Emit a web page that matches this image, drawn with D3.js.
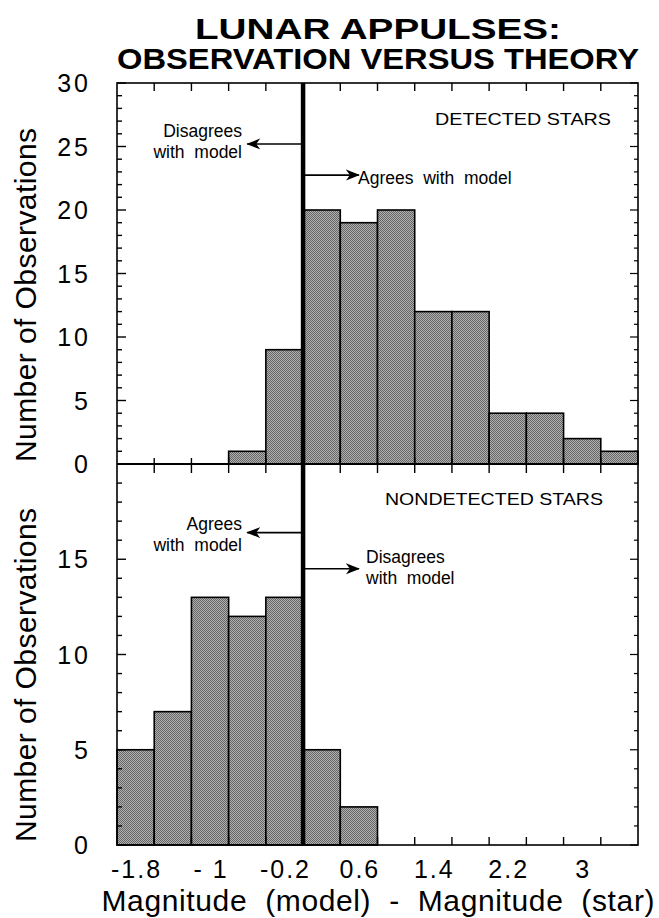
<!DOCTYPE html>
<html>
<head>
<meta charset="utf-8">
<script src="https://cdn.jsdelivr.net/npm/d3@7"></script>
<style>
  html, body { margin: 0; padding: 0; background: #fff; }
  svg { display: block; }
  text { font-family: "Liberation Sans", Arial, Helvetica, sans-serif; fill: #000; white-space: pre; }
</style>
</head>
<body>
<svg id="chart" width="659" height="918"></svg>
<script>
// ---- data ----
const binEdges = [-2.0, -1.6, -1.2, -0.8, -0.4, 0.0, 0.4, 0.8, 1.2, 1.6, 2.0, 2.4, 2.8, 3.2, 3.6];
const detected    = [0, 0, 0, 1, 9, 20, 19, 20, 12, 12, 4, 4, 2, 1];
const nondetected = [5, 7, 13, 12, 13, 5, 2, 0, 0, 0, 0, 0, 0, 0];
const xTickValues = [-1.8, -1, -0.2, 0.6, 1.4, 2.2, 3];
const xTickLabels = ["-1.8", "- 1", "-0.2", "0.6", "1.4", "2.2", "3"];
const yTopTicks = [0, 5, 10, 15, 20, 25, 30];
const yBotTicks = [0, 5, 10, 15];
const boundary = 0;

// ---- layout ----
const L = 117, R = 638, T = 83, M = 464, B = 845;
const svg = d3.select("#chart");

const x = d3.scaleLinear().domain([-2.0, 3.6]).range([L, R]);
const yTop = d3.scaleLinear().domain([0, 30]).range([M, T]);
const yBot = d3.scaleLinear().domain([0, 20]).range([B, M]);

// halftone pattern
const defs = svg.append("defs");
const pat = defs.append("pattern").attr("id", "tone")
  .attr("width", 2).attr("height", 2).attr("patternUnits", "userSpaceOnUse");
pat.append("rect").attr("width", 2).attr("height", 2).attr("fill", "#b0b0b0");
pat.append("rect").attr("width", 1).attr("height", 1).attr("fill", "#666");
pat.append("rect").attr("x", 1).attr("y", 1).attr("width", 1).attr("height", 1).attr("fill", "#666");

defs.append("marker").attr("id", "arrow")
  .attr("viewBox", "0 -6 14 12").attr("refX", 13).attr("refY", 0)
  .attr("markerWidth", 14).attr("markerHeight", 12)
  .attr("markerUnits", "userSpaceOnUse").attr("orient", "auto")
  .append("path").attr("d", "M0,-5.5 L14,0 L0,5.5 L4,0 Z").attr("fill", "#000");

// ---- bars ----
function drawBars(values, y) {
  const data = values.map((v, i) => ({x0: binEdges[i], x1: binEdges[i + 1], v}))
                     .filter(d => d.v > 0);
  svg.append("g").selectAll("rect").data(data).join("rect")
    .attr("x", d => x(d.x0)).attr("width", d => x(d.x1) - x(d.x0))
    .attr("y", d => y(d.v)).attr("height", d => y(0) - y(d.v))
    .attr("fill", "url(#tone)").attr("stroke", "#000").attr("stroke-width", 1.6);
}
drawBars(detected, yTop);
drawBars(nondetected, yBot);

// ---- frames ----
svg.append("rect").attr("x", L).attr("y", T).attr("width", R - L).attr("height", B - T)
  .attr("fill", "none").attr("stroke", "#000").attr("stroke-width", 1.6);
svg.append("line").attr("x1", L).attr("x2", R).attr("y1", M).attr("y2", M)
  .attr("stroke", "#000").attr("stroke-width", 2.2);

// ---- y axes (inside ticks) ----
function yAxis(y, maxV, majors) {
  const minor = d3.range(0, maxV + 1);
  const g = svg.append("g");
  g.selectAll("line.mn").data(minor).join("line")
    .attr("x1", L).attr("x2", d => L + (d % 5 === 0 ? 9 : 5))
    .attr("y1", d => y(d)).attr("y2", d => y(d))
    .attr("stroke", "#000").attr("stroke-width", 1.4);
  g.selectAll("line.rt").data(minor).join("line")
    .attr("x1", R).attr("x2", d => R - (d % 5 === 0 ? 8 : 4))
    .attr("y1", d => y(d)).attr("y2", d => y(d))
    .attr("stroke", "#000").attr("stroke-width", 1.2);
  g.selectAll("text").data(majors).join("text")
    .attr("x", 91).attr("y", d => y(d)).attr("dy", "0.36em")
    .attr("text-anchor", "end").attr("font-size", 25).attr("letter-spacing", 3)
    .text(d => d);
}
yAxis(yTop, 30, yTopTicks);
yAxis(yBot, 20, yBotTicks);

// ---- x ticks at bin edges ----
const inner = binEdges.slice(1, -1);
svg.append("g").selectAll("line").data(inner).join("line")
  .attr("x1", d => x(d)).attr("x2", d => x(d)).attr("y1", T).attr("y2", T + 8)
  .attr("stroke", "#000").attr("stroke-width", 1.4);
svg.append("g").selectAll("line").data(inner).join("line")
  .attr("x1", d => x(d)).attr("x2", d => x(d)).attr("y1", M - 6).attr("y2", M + 9)
  .attr("stroke", "#000").attr("stroke-width", 1.4);
svg.append("g").selectAll("line").data(inner).join("line")
  .attr("x1", d => x(d)).attr("x2", d => x(d)).attr("y1", B).attr("y2", B - 8)
  .attr("stroke", "#000").attr("stroke-width", 1.4);

svg.append("g").selectAll("text").data(xTickValues).join("text")
  .attr("x", (d) => x(d) + 1).attr("y", 878)
  .attr("text-anchor", "middle").attr("font-size", 25).attr("letter-spacing", 2)
  .text((d, i) => xTickLabels[i]);

// ---- boundary line ----
svg.append("line").attr("x1", x(boundary)).attr("x2", x(boundary)).attr("y1", T).attr("y2", B)
  .attr("stroke", "#000").attr("stroke-width", 4.5);

// ---- titles ----
svg.append("text").attr("x", 378).attr("y", 39).attr("text-anchor", "middle")
  .attr("font-size", 30).attr("font-weight", "bold")
  .attr("textLength", 366).attr("lengthAdjust", "spacingAndGlyphs")
  .text("LUNAR APPULSES:");
svg.append("text").attr("x", 378).attr("y", 69).attr("text-anchor", "middle")
  .attr("font-size", 30).attr("font-weight", "bold")
  .attr("textLength", 522).attr("lengthAdjust", "spacingAndGlyphs")
  .text("OBSERVATION VERSUS THEORY");

svg.append("text").attr("x", 378).attr("y", 911).attr("text-anchor", "middle")
  .attr("font-size", 30).attr("textLength", 553).attr("lengthAdjust", "spacing")
  .text("Magnitude  (model)  -  Magnitude  (star)");

function yTitle(cy) {
  svg.append("text").attr("transform", `translate(36,${cy}) rotate(-90)`)
    .attr("text-anchor", "middle").attr("font-size", 30)
    .attr("textLength", 334).attr("lengthAdjust", "spacing")
    .text("Number of Observations");
}
yTitle(295);
yTitle(675);

// ---- annotations ----
function arrow(x1, x2, yy) {
  svg.append("line").attr("x1", x1).attr("x2", x2).attr("y1", yy).attr("y2", yy)
    .attr("stroke", "#000").attr("stroke-width", 1.6).attr("marker-end", "url(#arrow)");
}
function label(lines, xx, yy, anchor) {
  lines.forEach((s, i) => svg.append("text")
    .attr("x", xx).attr("y", yy + i * 20.5).attr("text-anchor", anchor)
    .attr("font-size", 17.5).text(s));
}
// top panel
arrow(x(boundary), x(-0.6), yTop(25.2));
label(["Disagrees", "with  model"], 242, 137, "end");
arrow(x(boundary), x(0.6), yTop(22.75));
label(["Agrees  with  model"], 358, 184, "start");
svg.append("text").attr("x", 435).attr("y", 125).attr("font-size", 17)
  .attr("textLength", 176).attr("lengthAdjust", "spacingAndGlyphs").text("DETECTED STARS");
// bottom panel
arrow(x(boundary), x(-0.6), yBot(16.4));
label(["Agrees", "with  model"], 242, 530, "end");
arrow(x(boundary), x(0.6), yBot(14.5));
label(["Disagrees", "with  model"], 366, 563, "start");
svg.append("text").attr("x", 385).attr("y", 505).attr("font-size", 17)
  .attr("textLength", 218).attr("lengthAdjust", "spacingAndGlyphs").text("NONDETECTED STARS");
</script>
</body>
</html>
